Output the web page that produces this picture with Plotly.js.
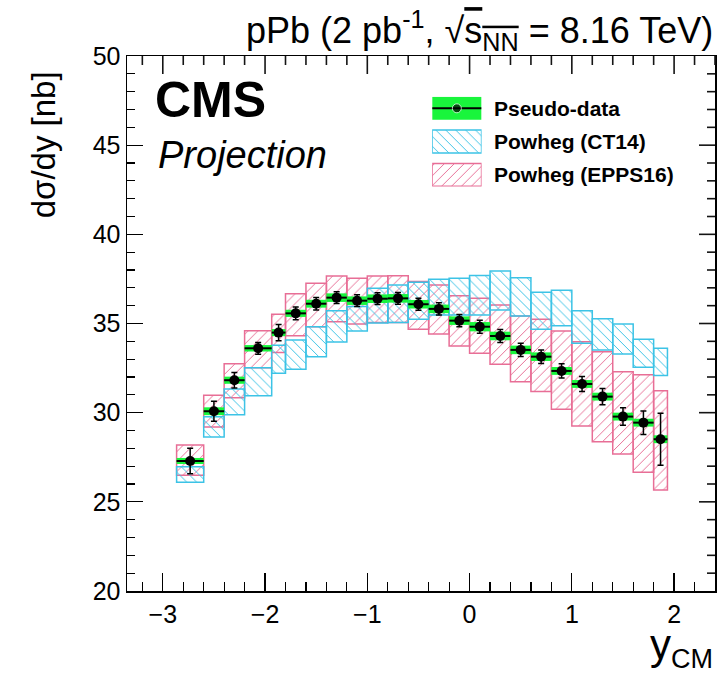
<!DOCTYPE html>
<html><head><meta charset="utf-8">
<script src="https://cdn.plot.ly/plotly-3.0.1.min.js"></script>
<style>html,body{margin:0;padding:0;background:#fff}</style>
</head><body><div id="chart" style="width:727px;height:676px"></div>
<script>
// bin edges in y_CM
const binEdges = [-2.865, -2.6, -2.4, -2.2, -1.935, -1.8, -1.6, -1.4, -1.2, -1.0, -0.8, -0.6, -0.4, -0.2, 0.0, 0.2, 0.4, 0.6, 0.8, 1.0, 1.2, 1.4, 1.6, 1.8, 1.935];
// pseudo-data
const dataY   = [27.29, 30.08, 31.82, 33.61, 34.49, 35.57, 36.11, 36.45, 36.28, 36.39, 36.41, 36.08, 35.82, 35.16, 34.82, 34.30, 33.52, 33.14, 32.34, 31.61, 30.90, 29.78, 29.44, 28.51];
const statErr = [0.72, 0.56, 0.43, 0.33, 0.46, 0.36, 0.35, 0.33, 0.33, 0.33, 0.33, 0.33, 0.34, 0.34, 0.36, 0.37, 0.37, 0.38, 0.40, 0.42, 0.45, 0.49, 0.66, 1.46];
const systErr = [0.17, 0.22, 0.20, 0.18, 0.20, 0.20, 0.22, 0.24, 0.24, 0.24, 0.24, 0.24, 0.24, 0.24, 0.26, 0.24, 0.24, 0.24, 0.22, 0.22, 0.22, 0.22, 0.22, 0.22];
// Powheg (CT14)
const ct14Low  = [26.10, 28.64, 29.89, 30.95, 32.21, 32.43, 33.14, 33.96, 34.58, 35.03, 35.05, 35.24, 35.48, 35.48, 35.48, 35.76, 35.42, 34.68, 34.88, 33.89, 33.52, 33.29, 32.55, 32.08];
const ct14High = [26.97, 29.77, 31.33, 32.52, 33.78, 34.08, 34.82, 35.72, 35.95, 36.98, 37.16, 37.31, 37.48, 37.54, 37.69, 37.95, 37.57, 36.75, 36.86, 35.72, 35.26, 34.97, 34.12, 33.61];
// Powheg (EPPS16)
const eppsLow  = [26.49, 29.20, 30.84, 32.52, 33.37, 34.32, 34.82, 35.10, 34.97, 35.05, 35.05, 34.68, 34.41, 33.74, 33.33, 32.71, 31.74, 31.18, 30.19, 29.25, 28.37, 27.68, 26.66, 25.66];
const eppsHigh = [28.19, 30.98, 32.75, 34.60, 35.52, 36.67, 37.26, 37.67, 37.54, 37.67, 37.68, 37.35, 37.16, 36.56, 36.42, 36.04, 35.42, 35.24, 34.58, 33.98, 33.42, 32.30, 32.13, 31.23];
const legendLabels = ['Pseudo-data', 'Powheg (CT14)', 'Powheg (EPPS16)'];

const CYAN = 'rgb(60,195,230)';
const PINK = 'rgb(232,110,150)';
const GREEN = 'rgb(25,245,60)';

const centers = dataY.map((_, i) => (binEdges[i] + binEdges[i + 1]) / 2);
const widths = dataY.map((_, i) => binEdges[i + 1] - binEdges[i]);
const halfW = widths.map(w => w / 2);

function hatchBar(low, high, color, shape, xa, ya, xs, ws) {
  return {
    type: 'bar', x: xs, width: ws, base: low,
    y: high.map((h, i) => h - low[i]),
    xaxis: xa, yaxis: ya,
    marker: {
      color: 'rgba(0,0,0,0)',
      line: {color: color, width: 1.5},
      pattern: {shape: shape, fgcolor: color, bgcolor: 'rgba(0,0,0,0)', size: 7, solidity: 0.14, fillmode: 'replace'}
    },
    hoverinfo: 'skip'
  };
}

const traces = [
  hatchBar(eppsLow, eppsHigh, PINK, '/', 'x', 'y', centers, widths),
  hatchBar(ct14Low, ct14High, CYAN, '\\', 'x', 'y', centers, widths),
  {
    type: 'bar', x: centers, width: widths,
    base: dataY.map((v, i) => v - systErr[i]),
    y: systErr.map(s => 2 * s),
    marker: {color: GREEN, line: {width: 0}},
    hoverinfo: 'skip'
  },
  {
    type: 'scatter', mode: 'markers', x: centers, y: dataY,
    marker: {color: 'black', size: 10},
    error_y: {type: 'data', array: statErr, visible: true, color: 'black', thickness: 1.5, width: 3},
    error_x: {type: 'data', array: halfW, visible: true, color: 'black', thickness: 2, width: 0}
  },
  // legend samples
  {
    type: 'bar', x: [0.5], width: [1], base: [2 - 0.345], y: [0.69],
    xaxis: 'x2', yaxis: 'y2', marker: {color: GREEN, line: {width: 0}}, hoverinfo: 'skip'
  },
  {
    type: 'scatter', mode: 'lines+markers', x: [0, 0.5, 1], y: [2, 2, 2],
    xaxis: 'x2', yaxis: 'y2', line: {color: 'black', width: 2},
    marker: {color: 'black', size: [0, 9, 0]}, hoverinfo: 'skip'
  },
  hatchBar([1 - 0.345], [1 + 0.345], CYAN, '\\', 'x2', 'y2', [0.5], [1]),
  hatchBar([0 - 0.345], [0 + 0.345], PINK, '/', 'x2', 'y2', [0.5], [1])
];

const FONT = 'Liberation Sans, Arial, Helvetica, sans-serif';
const XR = [-3.35, 2.4], YR = [20, 50];
const PLOT_W = 588, PLOT_H = 535;
const axisCommon = {
  ticks: 'inside', tickwidth: 1.2, tickcolor: 'black', mirror: true,
  showline: true, linecolor: 'black', linewidth: 1.5,
  showgrid: false, zeroline: false,
  tickfont: {size: 25, family: FONT, color: 'black'}
};
const xMinor = {dtick: 0.2, tick0: 0, ticks: 'inside', ticklen: 9, tickcolor: 'black', tickwidth: 1.2, showgrid: false};
const yMinor = {dtick: 1, tick0: 0, ticks: 'inside', ticklen: 8, tickcolor: 'black', tickwidth: 1.2, showgrid: false};

// mirrored ticks on the top and right frame edges (ROOT style), pointing inward
const tickShapes = [];
for (let k = -16; k <= 12; k++) {
  const v = k / 5, len = (k % 5 === 0) ? 18 : 9;
  const xp = (v - XR[0]) / (XR[1] - XR[0]);
  tickShapes.push({type: 'line', layer: 'above', xref: 'paper', yref: 'paper',
                   x0: xp, x1: xp, y0: 1, y1: 1 - len / PLOT_H,
                   line: {color: 'rgb(20,20,20)', width: 1.6}});
}
for (let v = YR[0] + 1; v < YR[1]; v++) {
  const len = (v % 5 === 0) ? 16 : 8;
  const yp = (v - YR[0]) / (YR[1] - YR[0]);
  tickShapes.push({type: 'line', layer: 'above', xref: 'paper', yref: 'paper', x0: 1, x1: 1 - len / PLOT_W, y0: yp, y1: yp,
                   line: {color: 'rgb(20,20,20)', width: 1.6}});
}

const layout = {
  width: 727, height: 676,
  margin: {l: 127, r: 12, t: 56, b: 85},
  paper_bgcolor: 'white', plot_bgcolor: 'white',
  showlegend: false, barmode: 'overlay',
  font: {family: FONT, color: 'black'},
  xaxis: Object.assign({}, axisCommon, {range: XR, dtick: 1, tick0: 0, ticklen: 18, minor: xMinor}),
  yaxis: Object.assign({}, axisCommon, {range: YR, dtick: 5, tick0: 0, ticklen: 16, minor: yMinor}),
  xaxis2: {domain: [0.519, 0.603], range: [0, 1], anchor: 'y2', visible: false, fixedrange: true},
  yaxis2: {domain: [0.756, 0.924], range: [-0.35, 2.35], anchor: 'x2', visible: false, fixedrange: true},
  shapes: tickShapes,
  annotations: [
    {xref: 'paper', yref: 'paper', x: 1.0, y: 1.048, xanchor: 'right', yanchor: 'middle', showarrow: false,
     text: 'pPb (2 pb<sup>-1</sup>, √<span style="text-decoration:overline">s<sub>NN</sub></span> = 8.16 TeV)',
     font: {size: 36, family: FONT, color: 'black'}},
    {xref: 'paper', yref: 'paper', x: 0.045, y: 0.917, xanchor: 'left', yanchor: 'middle', showarrow: false,
     text: '<b>CMS</b>', font: {size: 50, family: FONT, color: 'black'}},
    {xref: 'paper', yref: 'paper', x: 0.049, y: 0.815, xanchor: 'left', yanchor: 'middle', showarrow: false,
     text: '<i>Projection</i>', font: {size: 38, family: FONT, color: 'black'}},
    {xref: 'paper', yref: 'paper', x: -0.142, y: 0.834, xanchor: 'center', yanchor: 'middle', showarrow: false,
     textangle: -90, text: 'dσ/dy [nb]', font: {size: 33, family: FONT, color: 'black'}},
    {xref: 'paper', yref: 'paper', x: 0.928, y: -0.1, xanchor: 'right', yanchor: 'middle', showarrow: false,
     text: 'y', font: {size: 42, family: FONT, color: 'black'}},
    {xref: 'paper', yref: 'paper', x: 1.0, y: -0.128, xanchor: 'right', yanchor: 'middle', showarrow: false,
     text: 'CM', font: {size: 27, family: FONT, color: 'black'}},
    ...legendLabels.map((t, i) => ({
      xref: 'paper', yref: 'paper', x: 0.62, y: [0.902, 0.8406, 0.7776][i], xanchor: 'left', yanchor: 'middle', showarrow: false,
      text: '<b>' + t + '</b>', font: {size: 21, family: FONT, color: 'black'}
    }))
  ]
};

Plotly.newPlot('chart', traces, layout, {displayModeBar: false, staticPlot: true});
</script>
</body></html>
